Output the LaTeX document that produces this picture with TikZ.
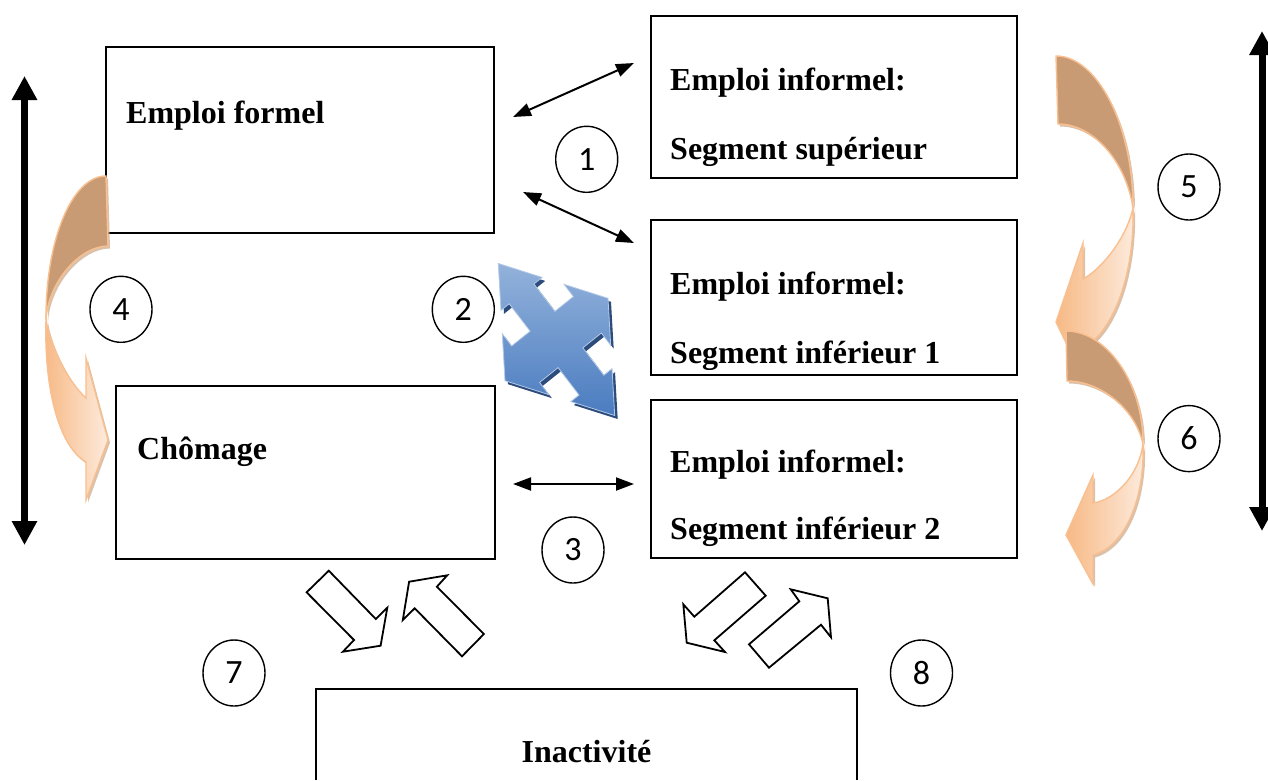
\documentclass[tikz,border=0pt]{standalone}
\usepackage{fontspec}
\setmainfont{Liberation Serif}
\newfontfamily\numfont{Carlito}
\usetikzlibrary{arrows.meta,shapes.geometric}
\definecolor{darktan}{HTML}{C99B75}
\definecolor{peachline}{HTML}{F9BF8F}
\definecolor{peachA}{HTML}{F7B985}
\definecolor{peachB}{HTML}{FDEBDD}
\definecolor{shadowtan}{HTML}{C9A888}
\definecolor{blueA}{HTML}{93B2DB}
\definecolor{blueB}{HTML}{4A7CC0}
\definecolor{blueShadow}{HTML}{2C4C7C}
\def\quadpath{(.60,-.24) -- (.60,-.40) -- (1,0) -- (.60,.40) -- (.60,.24) -- (.24,.24) -- (.24,.60) -- (.40,.60) -- (0,1) -- (-.40,.60) -- (-.24,.60) -- (-.24,.24) -- (-.60,.24) -- (-.60,.40) -- (-1,0) -- (-.60,-.40) -- (-.60,-.24) -- (-.24,-.24) -- (-.24,-.60) -- (-.40,-.60) -- (0,-1) -- (.40,-.60) -- (.24,-.60) -- (.24,-.24) -- cycle}
\def\afourdark{(106,176) .. controls (72,176) and (45.5,240) .. (46,320) .. controls (48,282) and (80,246) .. (108,246) -- cycle}
\def\afourlight{(46,320) .. controls (44,392) and (60,447) .. (86,462) -- (86,500) -- (108,440) -- (86,358) -- (86,398) .. controls (68,382) and (50,345) .. (46,320) -- cycle}
\def\afivedark{(1056,56) .. controls (1097,56) and (1133,125) .. (1133,208) .. controls (1126,162) and (1094,124) .. (1058,124) -- cycle}
\def\afivelight{(1133,208) .. controls (1135,272) and (1114,332) .. (1083,348) -- (1083,378) -- (1056,322) -- (1083,243) -- (1083,279) .. controls (1100,270) and (1126,240) .. (1133,208) -- cycle}
\def\asixdark{(1066,331) .. controls (1105,331) and (1143,380) .. (1143,444) .. controls (1135,408) and (1100,381) .. (1067,381) -- cycle}
\def\asixlight{(1143,444) .. controls (1145,497) and (1126,546) .. (1093,555) -- (1093,584) -- (1066,535) -- (1093,475) -- (1093,503) .. controls (1115,500) and (1139,475) .. (1143,444) -- cycle}
\begin{document}
\begin{tikzpicture}[x=1pt,y=-1pt,
  boxnode/.style={draw, line width=1.6pt, inner sep=0pt},
  lbl/.style={font=\bfseries\fontsize{32}{38}\selectfont, inner sep=0pt, anchor=base west},
  numc/.style={draw, ellipse, line width=1.4pt, minimum width=62pt, minimum height=66pt, inner sep=0pt, font=\numfont\fontsize{34}{36}\selectfont},
  thinarr/.style={line width=2pt, {Triangle[length=18pt,width=13pt]}-{Triangle[length=18pt,width=13pt]}},
  thickarr/.style={line width=7pt, {Triangle[length=24pt,width=24pt]}-{Triangle[length=24pt,width=24pt]}},
  blockarr/.style={draw, fill=white, line width=1.8pt, line join=miter},
  darkpart/.style={fill=darktan, draw=peachline, line width=1.4pt},
  lightpart/.style={left color=peachA, right color=peachB, draw=peachline, line width=1.4pt},
  shadowpart/.style={fill=shadowtan, opacity=0.7}]
\useasboundingbox (0,0) rectangle (1268,780);
\fill[white] (0,0) rectangle (1268,780);

% boxes
\node[boxnode, minimum width=388pt, minimum height=186pt] (ef) at (300,140) {};
\node[boxnode, minimum width=366pt, minimum height=162pt] (sup) at (834,97) {};
\node[boxnode, minimum width=366pt, minimum height=155pt] (inf1) at (834,297.5) {};
\node[boxnode, minimum width=366pt, minimum height=158pt] (inf2) at (834,479) {};
\node[boxnode, minimum width=379pt, minimum height=173pt] (cho) at (305.5,472.5) {};
\node[inner sep=0pt, minimum width=541pt, minimum height=91pt] (ina) at (586.5,734.5) {};
\draw[line width=1.6pt] (ina.south west) -- (ina.north west) -- (ina.north east) -- (ina.south east);

% texts
\node[lbl] (tef) at (126,123) {Emploi formel};
\node[lbl] (ts1) at (670,90) {Emploi informel:};
\node[lbl] (ts2) at (670,159) {Segment supérieur};
\node[lbl] (ti11) at (670,294) {Emploi informel:};
\begin{scope}
\clip (651,220) rectangle (1017,369);
\node[lbl] (ti12) at (670,363) {Segment inférieur 1};
\end{scope}
\node[lbl] (ti21) at (670,472) {Emploi informel:};
\node[lbl] (ti22) at (670,539) {Segment inférieur 2};
\node[lbl] (tcho) at (137,459) {Chômage};
\node[lbl, anchor=base] (tina) at (586.5,762) {Inactivité};

% number circles
\node[numc] (n1) at (586.7,159.3) {1};
\node[numc] (n2) at (463.3,309.3) {2};
\node[numc] (n3) at (573,550) {3};
\node[numc] (n4) at (121,309.3) {4};
\node[numc] (n5) at (1189,187) {5};
\node[numc] (n6) at (1189,438.6) {6};
\node[numc] (n7) at (234,673) {7};
\node[numc] (n8) at (921.5,673) {8};

% thin double arrows
\coordinate (a1s) at (513,117); \coordinate (a1e) at (634,63);
\coordinate (a2s) at (523,192); \coordinate (a2e) at (634,243);
\coordinate (a3s) at (513,484); \coordinate (a3e) at (634,484);
\draw[thinarr] (a1s) -- (a1e);
\draw[thinarr] (a2s) -- (a2e);
\draw[thinarr] (a3s) -- (a3e);

% thick vertical double arrows
\coordinate (vl1) at (24.5,76); \coordinate (vl2) at (24.5,545);
\coordinate (vr1) at (1262,31); \coordinate (vr2) at (1262,531);
\draw[thickarr] (vl1) -- (vl2);
\draw[thickarr] (vr1) -- (vr2);

% blue quad arrow
\begin{scope}[shift={(559.5,343)}, x={(51.5pt,41.2pt)}, y={(-58.2pt,76pt)}]
\fill[blueShadow] \quadpath;
\end{scope}
\begin{scope}[shift={(556.5,339.5)}, x={(51.5pt,41.2pt)}, y={(-58.2pt,76pt)}]
\shade[top color=blueA, bottom color=blueB, draw=blueA!70!white, line width=0.8pt] \quadpath;
\end{scope}

% orange curved arrows (4, 5, 6)
\begin{scope}[shift={(2,2.5)}]
\fill[shadowpart] \afourdark; \fill[shadowpart] \afourlight;
\fill[shadowpart] \afivedark; \fill[shadowpart] \afivelight;
\end{scope}
\fill[darkpart] \afourdark;
\shade[lightpart] \afourlight;
\fill[darkpart] \afivedark;
\shade[lightpart] \afivelight;
\begin{scope}[shift={(2,2.5)}]
\fill[shadowpart] \asixdark; \fill[shadowpart] \asixlight;
\end{scope}
\fill[darkpart] \asixdark;
\shade[lightpart] \asixlight;

% block arrows (7, 8)
\draw[blockarr] (306.6,592.3) -- (328.8,570.7) -- (375.8,619) -- (387.3,607.7) -- (380.6,645.7) -- (342.9,651.7) -- (354,640) -- cycle;
\draw[blockarr] (402.8,620) -- (409.1,581.7) -- (447.2,575.3) -- (436.9,586.7) -- (483.9,634) -- (462,656.3) -- (414.7,608.3) -- cycle;
\draw[blockarr] (683.3,604.3) -- (694.3,616.7) -- (745,572.3) -- (765.7,595.7) -- (714.3,640.3) -- (725,652) -- (686.7,642.7) -- cycle;
\draw[blockarr] (749,644.3) -- (799.3,601.3) -- (790.7,589.3) -- (827.7,598.3) -- (831,637.3) -- (821,624.7) -- (769,667.7) -- cycle;
\end{tikzpicture}
\end{document}
